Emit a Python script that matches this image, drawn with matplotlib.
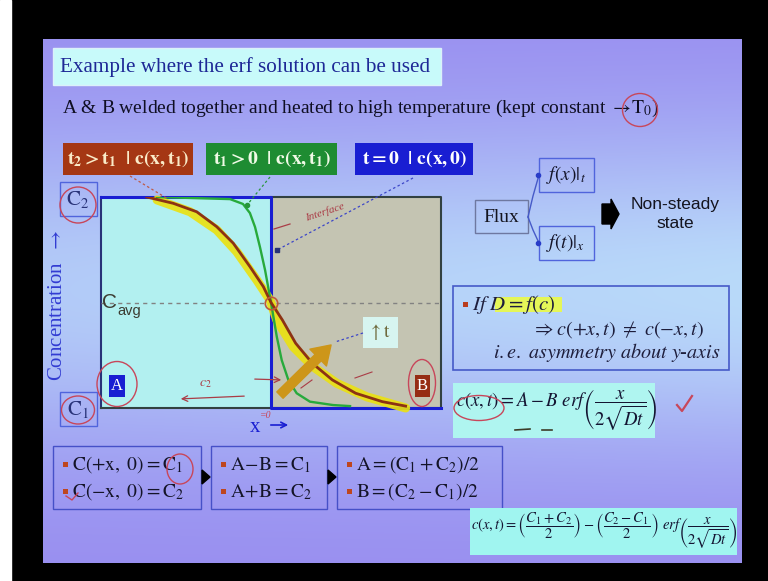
import numpy as np
import matplotlib
matplotlib.use("Agg")
import matplotlib.pyplot as plt
from matplotlib.patches import Rectangle, Ellipse, Polygon

plt.rcParams['font.family'] = ['Liberation Serif', 'DejaVu Sans']
plt.rcParams['mathtext.fontset'] = 'stix'

# Concentration profiles: x scaled so the weld interface sits at 0,
# concentration scaled so C1 = 0 and C2 = 1
t2_x = [-0.731, -0.575, -0.437, -0.319, -0.222, -0.124, -0.045, 0.0,
        0.067, 0.145, 0.243, 0.361, 0.498, 0.655, 0.792]
t2_c = [1.0, 0.970, 0.930, 0.859, 0.781, 0.670, 0.575, 0.50,
        0.417, 0.307, 0.212, 0.133, 0.070, 0.030, 0.009]

t1_x = [-0.67, -0.241, -0.165, -0.124, -0.094, -0.065, -0.035, 0.0,
        0.034, 0.063, 0.102, 0.151, 0.229, 0.365, 0.465]
t1_c = [1.0, 0.990, 0.967, 0.924, 0.858, 0.763, 0.654, 0.50,
        0.338, 0.227, 0.133, 0.070, 0.030, 0.014, 0.009]

# highlighter stroke drawn over the t2 profile
mark_x = [-0.67, -0.476, -0.319, -0.202, -0.084, -0.006,
          0.034, 0.131, 0.249, 0.387, 0.563, 0.792]
mark_c = [0.986, 0.930, 0.844, 0.741, 0.607, 0.512,
          0.417, 0.290, 0.195, 0.117, 0.053, 0.0]

# step profile at t = 0
t0_x = [-1, 0, 0, 1]
t0_c = [1, 1, 0, 0]
c_avg = 0.5

profile_labels = [r'$\mathbf{t_2 > t_1\ \ |\ c(x,t_1)}$',
                  r'$\mathbf{t_1 > 0\ \ |\ c(x,t_1)}$',
                  r'$\mathbf{t = 0\ \ |\ c(x,0)}$']

bc_lines = [[r'$\mathrm{C(+x,\ 0) = C_1}$', r'$\mathrm{C(-x,\ 0) = C_2}$'],
            [r'$\mathrm{A\!-\!B = C_1}$', r'$\mathrm{A\!+\!B = C_2}$'],
            [r'$\mathrm{A = (C_1 + C_2)/2}$', r'$\mathrm{B = (C_2 - C_1)/2}$']]


def rgb(r, g, b):
    return (r / 255, g / 255, b / 255)


RED = rgb(200, 70, 90)
GREEN = rgb(30, 140, 50)
BLUE = rgb(25, 30, 210)
CYAN = rgb(175, 245, 240)
NAVY = rgb(40, 50, 120)

W, H = 768, 581
fig = plt.figure(figsize=(W / 100, H / 100), dpi=100)
fig.patch.set_facecolor('black')

bg = fig.add_axes([0, 0, 1, 1], label='bg', zorder=0)
bg.set_xlim(0, W)
bg.set_ylim(H, 0)
bg.axis('off')
bg.add_patch(Rectangle((0, 0), 11, H, color='white'))

# slide background: lavender top and bottom, light blue band through the middle
sx0, sx1, sy0, sy1 = 43, 742, 39, 563
yy, xx = np.mgrid[0:sy1 - sy0, 0:sx1 - sx0]
wgt = np.exp(-((yy - 250) / 165.0) ** 2) * (0.8 + 0.2 * xx / (sx1 - sx0))
base = np.array([152, 140, 240]) / 255
light = np.array([185, 218, 250]) / 255
img = base[None, None, :] * (1 - wgt[..., None]) + light[None, None, :] * wgt[..., None]
bg.imshow(img, extent=(sx0, sx1, sy1, sy0), aspect='auto', zorder=0)


def box(ax, x0, y0, x1, y1, fc='none', ec='none', lw=1.0, z=1, alpha=1.0):
    ax.add_patch(Rectangle((x0, y0), x1 - x0, y1 - y0, facecolor=fc,
                           edgecolor=ec, lw=lw, zorder=z, alpha=alpha))


# title and intro line
box(bg, 53, 48, 441, 85, fc=rgb(200, 250, 250), ec=rgb(220, 240, 250))
bg.text(60, 67, 'Example where the erf solution can be used', fontsize=15.2,
        color=rgb(30, 40, 150), va='center', zorder=3)
bg.text(62, 108, r'A & B welded together and heated to high temperature '
        r'(kept constant $\rightarrow\!\mathrm{T_0}$)', fontsize=14,
        color=rgb(15, 15, 35), va='center', zorder=3)

# profile labels
for (x0, x1), fc, txt, tc in zip([(63, 193), (206, 337), (355, 473)],
                                 [rgb(165, 55, 20), GREEN, BLUE],
                                 profile_labels,
                                 [rgb(250, 235, 200), rgb(240, 250, 230), 'white']):
    box(bg, x0, 143, x1, 175, fc=fc, z=2)
    bg.text((x0 + x1) / 2, 159, txt, fontsize=14, color=tc,
            ha='center', va='center', zorder=3)

# C2 / C1 tags and axis label
for yc, txt in [(199, r'$\mathrm{C_2}$'), (409, r'$\mathrm{C_1}$')]:
    box(bg, 60, yc - 17, 97, yc + 17, ec=rgb(80, 100, 220), lw=1.0, z=2)
    bg.text(78, yc, txt, fontsize=15, color=NAVY, ha='center', va='center', zorder=3)
bg.text(58, 305, r'Concentration  $\rightarrow$', rotation=90, fontsize=15,
        color=rgb(50, 60, 210), ha='center', va='center', zorder=3)

# flux diagram
box(bg, 475, 200, 528, 233, ec=rgb(110, 120, 160), lw=1.0, z=2)
bg.text(501, 217, 'Flux', fontsize=14, color=rgb(20, 20, 30),
        ha='center', va='center', zorder=3)
for yc, txt in [(175, r'$f(x)|_t$'), (243, r'$f(t)|_x$')]:
    box(bg, 539, yc - 17, 594, yc + 17, ec=rgb(80, 100, 220), lw=1.0, z=2)
    bg.text(566, yc, txt, fontsize=14, color=rgb(20, 20, 40),
            ha='center', va='center', zorder=3)
    bg.plot([528, 533, 539], [217, 217 + (yc - 217) * 0.5, yc], color=rgb(70, 90, 200),
            lw=1.0, zorder=3)
    bg.plot([538], [yc], 'o', ms=3, color=rgb(40, 60, 200), zorder=4)
bg.add_patch(Polygon([(602, 204), (611, 204), (611, 199), (619, 214),
                      (611, 229), (611, 224), (602, 224)], color='black', zorder=3))
bg.text(675, 204, 'Non-steady', family='Liberation Sans', fontsize=12.5,
        color=rgb(20, 20, 30), ha='center', va='center', zorder=3)
bg.text(675, 223, 'state', family='Liberation Sans', fontsize=12.5,
        color=rgb(20, 20, 30), ha='center', va='center', zorder=3)

# D = f(c) note
box(bg, 453, 286, 729, 370, ec=rgb(70, 90, 200), lw=1.2, z=2)
box(bg, 495, 297, 562, 312, fc=rgb(235, 250, 70), z=2, alpha=0.9)
box(bg, 463, 302, 468, 307, fc=rgb(185, 60, 30), z=3)
bg.text(472, 304, r'$If\ D = f(c)$', fontsize=15, color=rgb(30, 30, 60),
        va='center', zorder=3)
bg.text(532, 330, r'$\Rightarrow c(+x,t)\ \neq\ c(-x,t)$', fontsize=14.5,
        color=rgb(30, 30, 60), va='center', zorder=3)
bg.text(607, 353, r'$i.e.\ asymmetry\ about\ y$-$axis$', fontsize=14.5,
        color=rgb(30, 30, 60), ha='center', va='center', zorder=3)

# erf solution
box(bg, 453, 383, 655, 438, fc=CYAN, z=2)
bg.text(557, 410, r'$c(x,t) = A - B\ erf\left(\dfrac{x}{2\sqrt{Dt}}\right)$',
        fontsize=13.5, color=rgb(20, 20, 50), ha='center', va='center', zorder=3)

# boundary conditions
for (x0, x1), lines in zip([(53, 201), (211, 327), (337, 502)], bc_lines):
    box(bg, x0, 446, x1, 509, ec=rgb(70, 80, 200), lw=1.0, z=2)
    for yc, txt in zip([465, 492], lines):
        box(bg, x0 + 10, yc - 3, x0 + 15, yc + 2, fc=rgb(190, 70, 30), z=3)
        bg.text(x0 + 19, yc, txt, fontsize=14, color=rgb(20, 20, 40),
                va='center', zorder=3)
for xt in (202, 328):
    bg.add_patch(Polygon([(xt, 470), (xt + 8, 477), (xt, 484)], color='black', zorder=3))

box(bg, 470, 508, 737, 555, fc=rgb(160, 245, 240), z=2)
bg.text(604, 531, r'$c(x,t) = \left(\dfrac{C_1 + C_2}{2}\right) - '
        r'\left(\dfrac{C_2 - C_1}{2}\right)\ erf\left(\dfrac{x}{2\sqrt{Dt}}\right)$',
        fontsize=10.5, color=rgb(20, 20, 50), ha='center', va='center', zorder=3)

# ---- concentration chart ----
ax = fig.add_axes([101 / W, 1 - 408 / H, 340 / W, 211 / H], label='chart', zorder=1)
ax.set_xlim(-1, 1)
ax.set_ylim(0, 1)
ax.axis('off')
ax.axvspan(-1, 0, color=rgb(178, 240, 240), zorder=0)
ax.axvspan(0, 1, color=rgb(196, 196, 178), zorder=0)
ax.plot([0, 1, 1, 0], [1, 1, 0, 0], color=rgb(50, 65, 65), lw=1.5, zorder=1, clip_on=False)
ax.plot([-1, -1], [0, 1], color=NAVY, lw=1.5, zorder=1, clip_on=False)
ax.plot([-1, 0], [0, 0], color=rgb(50, 65, 65), lw=1.5, zorder=1, clip_on=False)
ax.axhline(c_avg, color=rgb(130, 130, 130), lw=1.0, ls=(0, (3, 3)), zorder=1)

ax.plot(t0_x, t0_c, color=BLUE, lw=2.2, zorder=2, clip_on=False)
ax.plot(mark_x, mark_c, color=rgb(235, 225, 15), lw=6.5, alpha=0.9,
        solid_capstyle='round', solid_joinstyle='round', zorder=3, clip_on=False)
ax.plot(t1_x, t1_c, color=rgb(40, 170, 60), lw=1.7, solid_joinstyle='round', zorder=4)
ax.plot(t2_x, t2_c, color=rgb(140, 50, 20), lw=2.0, solid_joinstyle='round', zorder=5)
ax.plot([0], [c_avg], 'o', ms=9, mfc='none', mec=rgb(190, 90, 60), mew=1.2, zorder=6)

ax.annotate('', xy=(0.365, 0.308), xytext=(0.041, 0.052),
            arrowprops=dict(arrowstyle='simple,head_width=0.85,head_length=0.65,tail_width=0.32',
                            color=rgb(205, 150, 25), mutation_scale=20), zorder=7)

# ---- overlay: tags, leaders and pen marks ----
fg = fig.add_axes([0, 0, 1, 1], label='fg', zorder=2)
fg.set_xlim(0, W)
fg.set_ylim(H, 0)
fg.axis('off')
fg.patch.set_alpha(0)

fg.text(102, 302, 'C', family='Liberation Sans', fontsize=15,
        color=rgb(60, 60, 50), va='center')
fg.text(117, 311, 'avg', family='Liberation Sans', fontsize=10.5,
        color=rgb(60, 60, 50), va='center')

box(fg, 109, 375, 125, 397, fc=BLUE, z=2)
fg.text(117, 386, 'A', fontsize=12, color='white', ha='center', va='center', zorder=3)
box(fg, 415, 375, 430, 397, fc=rgb(150, 45, 20), z=2)
fg.text(422.5, 386, 'B', fontsize=12, color='white', ha='center', va='center', zorder=3)

box(fg, 363, 317, 398, 348, fc=rgb(215, 245, 240), z=2)
fg.text(380, 332, r'$\uparrow\mathrm{t}$', fontsize=14, color=rgb(110, 105, 60),
        ha='center', va='center', zorder=3)

dash = (0, (2, 2))
fg.plot([130, 168], [176, 199], color=rgb(190, 90, 70), lw=0.9, ls=dash)
fg.plot([270, 247], [177, 205], color=rgb(40, 150, 60), lw=0.9, ls=dash)
fg.plot([247], [205], 'o', ms=3, color=rgb(40, 150, 60))
fg.plot([413, 277], [178, 250], color=rgb(60, 70, 200), lw=0.9, ls=dash)
fg.plot([277], [250], 's', ms=3, color=NAVY)
fg.plot([363, 335], [333, 342], color=rgb(60, 70, 200), lw=0.9, ls=dash)

fg.text(255, 428, 'x', fontsize=15, color=BLUE, ha='center', va='center')
fg.annotate('', xy=(291, 425), xytext=(268, 425),
            arrowprops=dict(arrowstyle='->', color=BLUE, lw=1.2))
fg.text(266, 416, '=0', fontsize=7, color=RED, ha='center', va='center', style='italic')

# pen annotations
pen = rgb(170, 60, 70)
for (xc, yc, w, h) in [(78, 205, 36, 36), (78, 410, 33, 28), (117, 384, 40, 45),
                       (422, 383, 27, 47), (640, 110, 35, 33), (180, 469, 26, 30),
                       (479, 408, 50, 25)]:
    fg.add_patch(Ellipse((xc, yc), w, h, fill=False, ec=RED, lw=1.0))
fg.plot([274, 290], [229, 224], color=pen, lw=0.9)
fg.text(325, 212, 'Interface', fontsize=8, color=pen, style='italic',
        rotation=18, ha='center', va='center')
fg.annotate('', xy=(178, 399), xytext=(247, 396),
            arrowprops=dict(arrowstyle='->', color=pen, lw=0.9))
fg.text(205, 384, r'$c_2$', fontsize=10, color=pen, ha='center', va='center')
fg.annotate('', xy=(284, 380), xytext=(252, 379),
            arrowprops=dict(arrowstyle='->', color=pen, lw=0.9))
fg.plot([301, 312], [388, 380], color=pen, lw=0.8)
fg.plot([355, 372], [378, 372], color=pen, lw=0.8)
fg.plot([677, 682, 692], [405, 411, 396], color=RED, lw=1.6)
fg.plot([66, 72, 78], [496, 500, 493], color=RED, lw=1.0)
# underlines under A and B in the erf solution
fg.plot([515, 530], [430, 429], color=rgb(60, 60, 40), lw=1.2)
fg.plot([542, 552], [430, 430], color=rgb(60, 60, 40), lw=1.2)

fig.savefig('out.png', dpi=100, facecolor=fig.get_facecolor())
